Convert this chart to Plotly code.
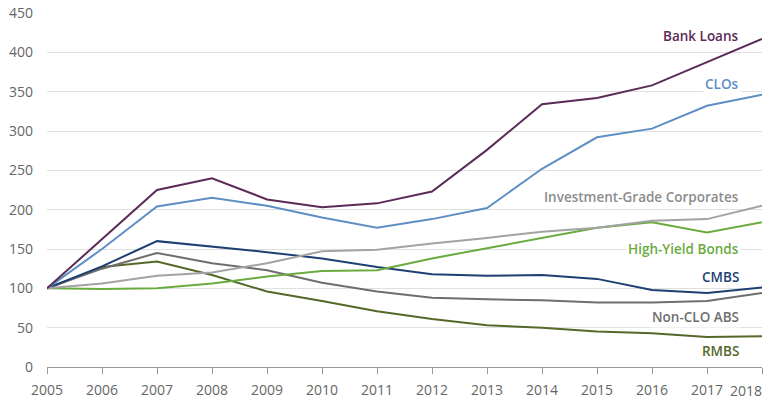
import plotly.graph_objects as go

years = list(range(2005, 2019))

bank_loans = [100, 162, 225, 240, 213, 203, 208, 223, 276, 334, 342, 358, 388, 417]
clos = [100, 150, 204, 215, 205, 190, 177, 188, 202, 252, 292, 303, 332, 346]
ig_corp = [100, 106, 116, 120, 132, 147, 149, 157, 164, 172, 177, 186, 188, 205]
hy_bonds = [100, 99, 100, 106, 115, 122, 123, 138, 151, 164, 177, 184, 171, 184]
cmbs = [100, 128, 160, 153, 146, 138, 127, 118, 116, 117, 112, 98, 94, 101]
non_clo_abs = [100, 125, 145, 132, 123, 107, 96, 88, 86, 85, 82, 82, 84, 94]
rmbs = [100, 127, 134, 117, 96, 84, 71, 61, 53, 50, 45, 43, 38, 39]

series_names = ["Bank Loans", "CLOs", "Investment-Grade Corporates", "High-Yield Bonds",
                "CMBS", "Non-CLO ABS", "RMBS"]
series_values = [bank_loans, clos, ig_corp, hy_bonds, cmbs, non_clo_abs, rmbs]
series_colors = ["#5b2a56", "#5e8fc4", "#a3a3a3", "#6aab3f", "#1e3f73", "#6e6e6e", "#55682a"]
label_colors = ["#5b2a56", "#5e8fc4", "#8c8c8c", "#6aab3f", "#1e3f73", "#6e6e6e", "#55682a"]
label_y = [421, 360, 216, 150, 114, 63.5, 20]
label_x = 2017.62

y_ticks = [0, 50, 100, 150, 200, 250, 300, 350, 400, 450]
x_ticktext = [str(y) for y in years[:-1]] + [""]

fig = go.Figure()
# draw in reverse so Bank Loans is on top
for name, vals, col in reversed(list(zip(series_names, series_values, series_colors))):
    fig.add_trace(go.Scatter(x=years, y=vals, mode="lines", name=name,
                             line=dict(color=col, width=2), showlegend=False,
                             hoverinfo="skip"))

for name, ly, col in zip(series_names, label_y, label_colors):
    fig.add_annotation(x=label_x, y=ly, text=name, showarrow=False, xanchor="right",
                       yanchor="middle", bgcolor="white", borderpad=1,
                       font=dict(family="Open Sans", size=13.5, color=col, weight=600))

# last year tick label kept inside the canvas (right-aligned at the edge)
fig.add_annotation(x=years[-1], y=0, yref="y", text=str(years[-1]), showarrow=False,
                   xanchor="right", yanchor="middle", yshift=-23, xshift=2,
                   font=dict(family="Open Sans", size=14, color="#666666"))

fig.update_layout(
    width=764, height=400,
    margin=dict(l=47, r=2, t=13, b=33),
    plot_bgcolor="white", paper_bgcolor="white",
    font=dict(family="Open Sans", size=14, color="#666666"),
    hovermode=False,
)
fig.update_xaxes(range=[2005, 2018], tickmode="array", tickvals=years,
                 ticktext=x_ticktext, showgrid=False, automargin=False,
                 showline=True, linecolor="#9a9a9a", linewidth=1,
                 ticks="outside", ticklen=6, tickcolor="#9a9a9a", ticklabelstandoff=4,
                 tickfont=dict(size=14, color="#666666"), zeroline=False)
fig.update_yaxes(range=[0, 450], tickvals=y_ticks, showgrid=True, gridcolor="#e0e0e0",
                 gridwidth=1, showline=False, zeroline=False, ticks="", automargin=False,
                 tickfont=dict(size=14, color="#666666"), ticklabelstandoff=13)

fig.write_html("out.html", config={"displayModeBar": False},
               post_script="document.body.style.margin='0';")
